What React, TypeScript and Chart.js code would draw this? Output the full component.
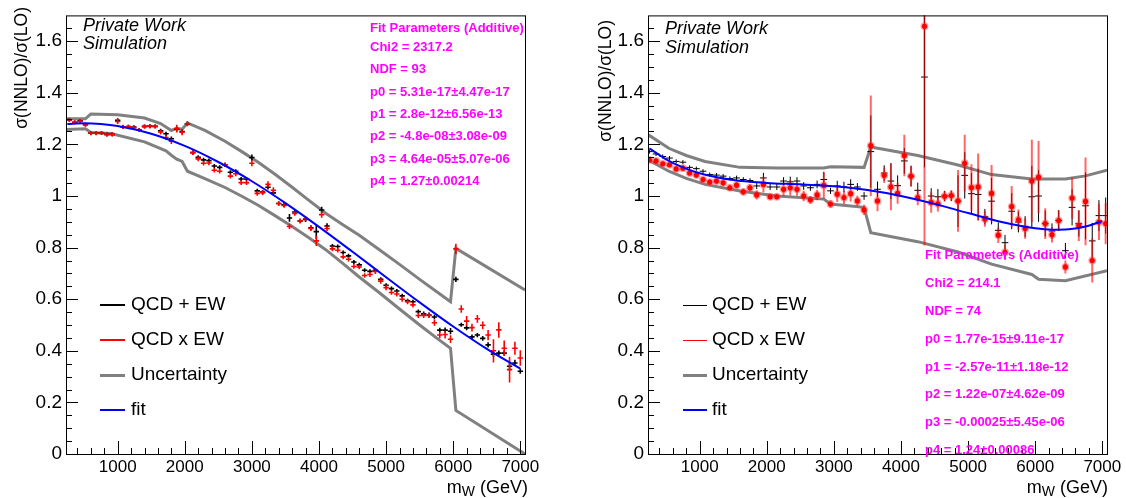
import React, { useEffect, useRef } from "react";
import { Chart, registerables } from "chart.js";

Chart.register(...registerables);

const FONT = "'Liberation Sans', Arial, Helvetica, sans-serif";

// ---------- shared axes ----------
const X_MIN = 230;
const X_MAX = 7070;
const Y_MIN = 0;
const Y_MAX = 1.7;
const X_MAJOR_TICKS = [1000, 2000, 3000, 4000, 5000, 6000, 7000];
const X_MINOR_TICKS = [400, 600, 800, 1200, 1400, 1600, 1800, 2200, 2400, 2600, 2800, 3200, 3400, 3600, 3800, 4200, 4400, 4600, 4800, 5200, 5400, 5600, 5800, 6200, 6400, 6600, 6800];
const Y_MAJOR_TICKS = [0, 0.2, 0.4, 0.6, 0.8, 1, 1.2, 1.4, 1.6];
const Y_MINOR_TICKS = [0.05, 0.1, 0.15, 0.25, 0.3, 0.35, 0.45, 0.5, 0.55, 0.65, 0.7, 0.75, 0.85, 0.9, 0.95, 1.05, 1.1, 1.15, 1.25, 1.3, 1.35, 1.45, 1.5, 1.55, 1.65];

const Y_TITLE = "σ(NNLO)/σ(LO)";
const X_TITLE_MAIN = "m";
const X_TITLE_SUB = "W";
const X_TITLE_UNIT = " (GeV)";
const WATERMARK = ["Private Work", "Simulation"];
const LEGEND_LABELS = ["QCD + EW", "QCD x EW", "Uncertainty", "fit"];

// ---------- left panel ----------
const LEFT_X = [280, 360, 440, 520, 600, 680, 760, 840, 920, 1000, 1080, 1160, 1240, 1320, 1400, 1480, 1560, 1640, 1720, 1800, 1880, 1960, 2040, 2120, 2200, 2280, 2360, 2440, 2520, 2600, 2680, 2760, 2840, 2920, 3000, 3080, 3160, 3240, 3320, 3400, 3480, 3560, 3640, 3720, 3800, 3880, 3960, 4040, 4120, 4200, 4280, 4360, 4440, 4520, 4600, 4680, 4760, 4840, 4920, 5000, 5080, 5160, 5240, 5320, 5400, 5480, 5560, 5640, 5720, 5800, 5880, 5960, 6040, 6120, 6200, 6280, 6360, 6440, 6520, 6600, 6680, 6760, 6840, 6920, 7000];
const LEFT_QCD_PLUS_EW = [1.295, 1.286, 1.291, 1.276, 1.243, 1.243, 1.244, 1.239, 1.239, 1.293, 1.268, 1.269, 1.267, 1.257, 1.270, 1.271, 1.270, 1.253, 1.241, 1.222, 1.259, 1.250, 1.280, 1.168, 1.150, 1.140, 1.137, 1.116, 1.111, 1.121, 1.092, 1.096, 1.066, 1.066, 1.149, 1.020, 1.015, 1.034, 1.012, 0.971, 0.966, 0.915, 0.938, 0.903, 0.909, 0.877, 0.862, 0.946, 0.884, 0.806, 0.804, 0.781, 0.768, 0.744, 0.733, 0.712, 0.708, 0.712, 0.677, 0.654, 0.641, 0.632, 0.613, 0.594, 0.590, 0.552, 0.543, 0.539, 0.531, 0.480, 0.480, 0.476, 0.677, 0.501, 0.489, 0.454, 0.461, 0.448, 0.423, 0.387, 0.391, 0.391, 0.340, 0.353, 0.321];
const LEFT_QCD_PLUS_EW_ERR = [0.007, 0.007, 0.007, 0.007, 0.007, 0.007, 0.007, 0.007, 0.007, 0.008, 0.007, 0.007, 0.007, 0.007, 0.007, 0.007, 0.007, 0.008, 0.008, 0.009, 0.009, 0.009, 0.008, 0.008, 0.008, 0.008, 0.008, 0.008, 0.008, 0.008, 0.008, 0.008, 0.008, 0.008, 0.012, 0.008, 0.008, 0.009, 0.009, 0.008, 0.009, 0.015, 0.009, 0.009, 0.010, 0.010, 0.028, 0.012, 0.010, 0.008, 0.008, 0.008, 0.008, 0.008, 0.008, 0.008, 0.008, 0.008, 0.008, 0.008, 0.008, 0.008, 0.008, 0.008, 0.008, 0.008, 0.009, 0.009, 0.009, 0.009, 0.010, 0.012, 0.010, 0.008, 0.009, 0.009, 0.008, 0.009, 0.010, 0.010, 0.010, 0.010, 0.014, 0.012, 0.010];
const LEFT_QCD_X_EW = [1.295, 1.286, 1.290, 1.276, 1.243, 1.243, 1.244, 1.238, 1.239, 1.289, 1.268, 1.268, 1.265, 1.256, 1.269, 1.270, 1.270, 1.248, 1.227, 1.212, 1.261, 1.247, 1.280, 1.168, 1.144, 1.127, 1.128, 1.100, 1.096, 1.121, 1.077, 1.086, 1.052, 1.052, 1.127, 1.010, 1.013, 1.045, 1.022, 0.971, 0.963, 0.882, 0.932, 0.903, 0.912, 0.874, 0.826, 0.928, 0.874, 0.795, 0.790, 0.764, 0.755, 0.727, 0.725, 0.692, 0.696, 0.708, 0.670, 0.645, 0.626, 0.620, 0.600, 0.590, 0.578, 0.537, 0.537, 0.537, 0.509, 0.461, 0.463, 0.445, 0.795, 0.562, 0.515, 0.490, 0.524, 0.499, 0.461, 0.400, 0.481, 0.410, 0.327, 0.410, 0.372];
const LEFT_QCD_X_EW_ERR = [0.008, 0.008, 0.008, 0.008, 0.008, 0.008, 0.008, 0.008, 0.008, 0.010, 0.008, 0.008, 0.008, 0.008, 0.008, 0.008, 0.008, 0.010, 0.010, 0.010, 0.015, 0.012, 0.010, 0.009, 0.009, 0.009, 0.009, 0.009, 0.009, 0.009, 0.009, 0.009, 0.009, 0.009, 0.012, 0.009, 0.009, 0.012, 0.012, 0.009, 0.009, 0.010, 0.009, 0.009, 0.010, 0.010, 0.020, 0.012, 0.010, 0.009, 0.009, 0.009, 0.009, 0.009, 0.009, 0.009, 0.010, 0.010, 0.010, 0.010, 0.009, 0.010, 0.010, 0.010, 0.010, 0.010, 0.010, 0.010, 0.012, 0.012, 0.015, 0.015, 0.020, 0.015, 0.020, 0.015, 0.015, 0.015, 0.020, 0.045, 0.030, 0.030, 0.050, 0.025, 0.030];
const LEFT_UNC_UP_X = [230, 520, 600, 1000, 1400, 1640, 1800, 1880, 1960, 2040, 2300, 2600, 2850, 3100, 3350, 3600, 3850, 4100, 4350, 4600, 4900, 5200, 5500, 5750, 5960, 6040, 7070];
const LEFT_UNC_UP_Y = [1.299, 1.299, 1.318, 1.315, 1.302, 1.281, 1.254, 1.262, 1.259, 1.283, 1.254, 1.212, 1.172, 1.130, 1.083, 1.034, 0.983, 0.933, 0.890, 0.848, 0.792, 0.735, 0.677, 0.630, 0.590, 0.797, 0.636];
const LEFT_UNC_LO_X = [230, 520, 600, 900, 1400, 1720, 1800, 1880, 1960, 2040, 2300, 2600, 2850, 3100, 3350, 3600, 3850, 4100, 4350, 4600, 4900, 5200, 5500, 5750, 5960, 6040, 7070];
const LEFT_UNC_LO_Y = [1.258, 1.261, 1.246, 1.242, 1.210, 1.175, 1.158, 1.143, 1.134, 1.096, 1.067, 1.033, 0.999, 0.963, 0.923, 0.882, 0.838, 0.792, 0.740, 0.686, 0.625, 0.562, 0.500, 0.450, 0.410, 0.169, 0.000];
const LEFT_FIT_X = [250, 500, 750, 1000, 1500, 2000, 2500, 3000, 3500, 4000, 4500, 5000, 5500, 6000, 6500, 7000];
const LEFT_FIT_Y = [1.2786, 1.2816, 1.279, 1.2713, 1.2413, 1.1941, 1.1318, 1.0571, 0.9724, 0.8804, 0.7837, 0.6852, 0.5876, 0.494, 0.4073, 0.3307];
const LEFT_FIT_TEXT = ["Fit Parameters (Additive)", "Chi2 = 2317.2", "NDF = 93", "p0 = 5.31e-17±4.47e-17", "p1 = 2.8e-12±6.56e-13", "p2 = -4.8e-08±3.08e-09", "p3 = 4.64e-05±5.07e-06", "p4 = 1.27±0.00214"];

// ---------- right panel ----------
const RIGHT_X = [250, 350, 450, 550, 650, 750, 850, 950, 1050, 1150, 1250, 1350, 1450, 1550, 1650, 1750, 1850, 1950, 2050, 2150, 2250, 2350, 2450, 2550, 2650, 2750, 2850, 2950, 3050, 3150, 3250, 3350, 3450, 3550, 3650, 3750, 3850, 3950, 4050, 4150, 4250, 4350, 4450, 4550, 4650, 4750, 4850, 4950, 5050, 5150, 5250, 5350, 5450, 5550, 5650, 5750, 5850, 5950, 6050, 6150, 6250, 6350, 6450, 6550, 6650, 6750, 6850, 6950, 7050];
const RIGHT_QCD_PLUS_EW = [1.172, 1.163, 1.153, 1.147, 1.134, 1.131, 1.111, 1.106, 1.096, 1.083, 1.081, 1.077, 1.068, 1.070, 1.064, 1.060, 1.039, 1.070, 1.035, 1.035, 1.058, 1.055, 1.058, 1.039, 1.032, 1.045, 1.064, 1.020, 1.039, 1.035, 1.045, 1.035, 1.000, 1.172, 1.026, 1.089, 1.058, 1.040, 1.136, 1.077, 1.022, 1.461, 1.000, 0.997, 1.000, 1.000, 0.980, 1.080, 1.009, 1.006, 0.920, 0.980, 0.867, 0.819, 0.941, 0.899, 0.882, 0.997, 1.000, 0.893, 0.864, 0.905, 0.788, 0.956, 0.893, 0.962, 0.826, 0.924, 0.924];
const RIGHT_QCD_PLUS_EW_ERR = [0.008, 0.008, 0.008, 0.008, 0.008, 0.008, 0.008, 0.008, 0.008, 0.008, 0.008, 0.008, 0.008, 0.009, 0.009, 0.009, 0.012, 0.020, 0.012, 0.012, 0.015, 0.020, 0.015, 0.015, 0.012, 0.015, 0.030, 0.012, 0.020, 0.020, 0.020, 0.015, 0.015, 0.140, 0.030, 0.030, 0.070, 0.040, 0.050, 0.040, 0.030, 0.350, 0.030, 0.030, 0.020, 0.020, 0.100, 0.090, 0.080, 0.100, 0.030, 0.090, 0.030, 0.030, 0.070, 0.040, 0.040, 0.120, 0.100, 0.050, 0.030, 0.040, 0.030, 0.070, 0.050, 0.130, 0.070, 0.060, 0.070];
const RIGHT_QCD_X_EW = [1.140, 1.136, 1.125, 1.121, 1.105, 1.108, 1.089, 1.081, 1.064, 1.054, 1.058, 1.051, 1.032, 1.042, 1.016, 1.032, 1.004, 1.045, 0.997, 0.997, 1.026, 1.032, 1.026, 1.000, 0.985, 1.004, 1.041, 0.969, 1.007, 0.994, 1.009, 0.981, 0.946, 1.195, 0.981, 1.080, 1.035, 1.010, 1.157, 1.077, 0.994, 1.658, 0.975, 0.970, 0.999, 1.002, 0.981, 1.127, 1.033, 1.035, 0.911, 1.010, 0.848, 0.782, 0.959, 0.908, 0.874, 1.058, 1.073, 0.893, 0.850, 0.905, 0.725, 0.992, 0.886, 0.979, 0.750, 0.899, 0.893];
const RIGHT_QCD_X_EW_ERR = [0.010, 0.009, 0.009, 0.009, 0.010, 0.010, 0.010, 0.010, 0.011, 0.011, 0.012, 0.012, 0.012, 0.013, 0.013, 0.014, 0.018, 0.030, 0.012, 0.012, 0.025, 0.030, 0.025, 0.020, 0.015, 0.020, 0.050, 0.015, 0.030, 0.025, 0.030, 0.020, 0.020, 0.195, 0.040, 0.030, 0.090, 0.040, 0.080, 0.040, 0.030, 0.850, 0.040, 0.030, 0.020, 0.020, 0.120, 0.110, 0.090, 0.130, 0.030, 0.110, 0.030, 0.030, 0.080, 0.040, 0.040, 0.160, 0.140, 0.060, 0.030, 0.040, 0.025, 0.080, 0.060, 0.170, 0.085, 0.070, 0.080];
const RIGHT_UNC_UP_X = [230, 540, 800, 1080, 1600, 2150, 2850, 2950, 3450, 3550, 4250, 4850, 5350, 5950, 6450, 6750, 7070];
const RIGHT_UNC_UP_Y = [1.238, 1.185, 1.157, 1.134, 1.111, 1.109, 1.109, 1.113, 1.111, 1.190, 1.157, 1.120, 1.083, 1.066, 1.066, 1.078, 1.100];
const RIGHT_UNC_LO_X = [230, 540, 800, 1080, 1600, 2150, 2850, 2950, 3450, 3550, 4250, 4850, 5350, 5950, 6050, 6450, 7070];
const RIGHT_UNC_LO_Y = [1.140, 1.096, 1.068, 1.045, 1.019, 1.000, 0.988, 0.969, 0.956, 0.858, 0.823, 0.783, 0.736, 0.696, 0.677, 0.672, 0.710];
const RIGHT_FIT_X = [250, 500, 750, 1000, 1500, 2000, 2500, 3000, 3500, 4000, 4500, 5000, 5500, 6000, 6250, 6500, 6750, 7000];
const RIGHT_FIT_Y = [1.1847, 1.1424, 1.1108, 1.0881, 1.0617, 1.0507, 1.0451, 1.0375, 1.0232, 1.0003, 0.9694, 0.9338, 0.8993, 0.8747, 0.8695, 0.8712, 0.8816, 0.9027];
const RIGHT_FIT_TEXT = ["Fit Parameters (Additive)", "Chi2 = 214.1", "NDF = 74", "p0 = 1.77e-15±9.11e-17", "p1 = -2.57e-11±1.18e-12", "p2 = 1.22e-07±4.62e-09", "p3 = -0.00025±5.45e-06", "p4 = 1.24±0.00086"];

// ---------- panel specs (styling / placement) ----------
const PANELS = [
  {
    key: "left",
    x: LEFT_X, plus: LEFT_QCD_PLUS_EW, plusErr: LEFT_QCD_PLUS_EW_ERR, times: LEFT_QCD_X_EW, timesErr: LEFT_QCD_X_EW_ERR,
    halfWidth: 40,
    uncUpX: LEFT_UNC_UP_X, uncUpY: LEFT_UNC_UP_Y, uncLoX: LEFT_UNC_LO_X, uncLoY: LEFT_UNC_LO_Y,
    fitX: LEFT_FIT_X, fitY: LEFT_FIT_Y, fitText: LEFT_FIT_TEXT,
    plusStyle: { kind: "cross", color: "#000000", lineWidth: 1.6 },
    timesStyle: { kind: "cross", color: "#ff0000", lineWidth: 1.6 },
    layout: {
      yAxisWidth: 66, xAxisHeight: 44, padRight: 38, padTop: 7,
      yTitleX: 22, yTitleTop: 7, xTitleRight: 528, xTitleBase: 493,
      markX: 83, markY: [25.5, 44],
      legLine: [100, 125], legText: 131, legY: [305, 340, 375, 410], legWidths: [2, 2, 3, 2],
      fitTextX: 370, fitTextY: [28.3, 47.3, 69.3, 92.3, 114.3, 136.7, 159.3, 181.7],
    },
  },
  {
    key: "right",
    x: RIGHT_X, plus: RIGHT_QCD_PLUS_EW, plusErr: RIGHT_QCD_PLUS_EW_ERR, times: RIGHT_QCD_X_EW, timesErr: RIGHT_QCD_X_EW_ERR,
    halfWidth: 50,
    uncUpX: RIGHT_UNC_UP_X, uncUpY: RIGHT_UNC_UP_Y, uncLoX: RIGHT_UNC_LO_X, uncLoY: RIGHT_UNC_LO_Y,
    fitX: RIGHT_FIT_X, fitY: RIGHT_FIT_Y, fitText: RIGHT_FIT_TEXT,
    plusStyle: { kind: "cross", color: "#000000", lineWidth: 1 },
    timesStyle: { kind: "dot", color: "#ff0000", barColor: "rgba(255,0,0,0.6)", halo: "rgba(255,60,60,0.45)", lineWidth: 2, radius: 2.6 },
    layout: {
      yAxisWidth: 85, xAxisHeight: 44, padRight: 19, padTop: 7,
      yTitleX: 43, yTitleTop: 20, xTitleRight: 545, xTitleBase: 493,
      markX: 102, markY: [29, 48],
      legLine: [120, 144], legText: 149, legY: [305, 340, 375, 410], legWidths: [1, 1, 3, 2],
      fitTextX: 362, fitTextY: [255, 283, 311, 339, 367, 394, 422, 450],
    },
  },
];

function drawPoints(chart: any, ds: any) {
  const { ctx, chartArea: ca } = chart;
  const xs = chart.scales.x;
  const ys = chart.scales.y;
  const st = ds.rootStyle;
  ctx.save();
  ctx.beginPath();
  ctx.rect(ca.left, ca.top, ca.right - ca.left, ca.bottom - ca.top);
  ctx.clip();
  ctx.lineCap = "butt";
  ds.data.forEach((pt: any, i: number) => {
    const err = ds.rootErr[i];
    const px = xs.getPixelForValue(pt.x);
    const py = ys.getPixelForValue(pt.y);
    const yTop = ys.getPixelForValue(pt.y + err);
    const yBot = ys.getPixelForValue(pt.y - err);
    if (st.kind === "cross") {
      const xl = xs.getPixelForValue(pt.x - ds.rootHalfWidth);
      const xr = xs.getPixelForValue(pt.x + ds.rootHalfWidth);
      ctx.strokeStyle = st.color;
      ctx.lineWidth = st.lineWidth;
      ctx.beginPath();
      ctx.moveTo(xl, py);
      ctx.lineTo(xr, py);
      ctx.moveTo(px, yTop);
      ctx.lineTo(px, yBot);
      ctx.stroke();
    } else {
      ctx.strokeStyle = st.barColor;
      ctx.lineWidth = st.lineWidth;
      ctx.beginPath();
      ctx.moveTo(px, yTop);
      ctx.lineTo(px, yBot);
      ctx.stroke();
      ctx.fillStyle = st.halo;
      ctx.beginPath();
      ctx.arc(px, py, st.radius + 1.3, 0, Math.PI * 2);
      ctx.fill();
      ctx.fillStyle = st.color;
      ctx.beginPath();
      ctx.arc(px, py, st.radius, 0, Math.PI * 2);
      ctx.fill();
    }
  });
  ctx.restore();
}

function drawDecor(chart: any, p: any) {
  const { ctx, chartArea: ca } = chart;
  const xs = chart.scales.x;
  const ys = chart.scales.y;
  const L = p.layout;
  ctx.save();
  // frame
  ctx.strokeStyle = "#000";
  ctx.lineWidth = 1;
  ctx.strokeRect(ca.left + 0.5, ca.top + 0.5, ca.right - ca.left, ca.bottom - ca.top);
  // ticks
  ctx.beginPath();
  Y_MAJOR_TICKS.forEach((v) => {
    const y = Math.round(ys.getPixelForValue(v)) + 0.5;
    ctx.moveTo(ca.left, y);
    ctx.lineTo(ca.left + 12, y);
  });
  Y_MINOR_TICKS.forEach((v) => {
    const y = Math.round(ys.getPixelForValue(v)) + 0.5;
    ctx.moveTo(ca.left, y);
    ctx.lineTo(ca.left + 6, y);
  });
  X_MAJOR_TICKS.forEach((v) => {
    const x = Math.round(xs.getPixelForValue(v)) + 0.5;
    ctx.moveTo(x, ca.bottom);
    ctx.lineTo(x, ca.bottom - 13);
  });
  X_MINOR_TICKS.forEach((v) => {
    const x = Math.round(xs.getPixelForValue(v)) + 0.5;
    ctx.moveTo(x, ca.bottom);
    ctx.lineTo(x, ca.bottom - 6);
  });
  ctx.stroke();

  // y title
  ctx.fillStyle = "#000";
  ctx.font = `17.5px ${FONT}`;
  ctx.save();
  ctx.translate(L.yTitleX, L.yTitleTop);
  ctx.rotate(-Math.PI / 2);
  ctx.textAlign = "right";
  ctx.textBaseline = "middle";
  ctx.fillText(Y_TITLE, 0, 0);
  ctx.restore();

  // x title with subscript
  ctx.textBaseline = "alphabetic";
  ctx.textAlign = "left";
  ctx.font = `18px ${FONT}`;
  const wM = ctx.measureText(X_TITLE_MAIN).width;
  const wU = ctx.measureText(X_TITLE_UNIT).width;
  ctx.font = `14px ${FONT}`;
  const wS = ctx.measureText(X_TITLE_SUB).width;
  let tx = L.xTitleRight - (wM + wS + wU);
  ctx.font = `18px ${FONT}`;
  ctx.fillText(X_TITLE_MAIN, tx, L.xTitleBase);
  tx += wM;
  ctx.font = `14px ${FONT}`;
  ctx.fillText(X_TITLE_SUB, tx, L.xTitleBase + 3);
  tx += wS;
  ctx.font = `18px ${FONT}`;
  ctx.fillText(X_TITLE_UNIT, tx, L.xTitleBase);

  // watermark
  ctx.font = `italic 18px ${FONT}`;
  ctx.textBaseline = "middle";
  WATERMARK.forEach((t, i) => ctx.fillText(t, L.markX, L.markY[i]));

  // legend
  const legColors = [p.plusStyle.color, p.timesStyle.color, "#808080", "#0000ff"];
  LEGEND_LABELS.forEach((label, i) => {
    const w = L.legWidths[i];
    const y = L.legY[i];
    const ly = w % 2 === 1 ? Math.round(y) + 0.5 : Math.round(y);
    ctx.strokeStyle = legColors[i];
    ctx.lineWidth = w;
    ctx.beginPath();
    ctx.moveTo(L.legLine[0], ly);
    ctx.lineTo(L.legLine[1], ly);
    ctx.stroke();
    ctx.fillStyle = "#000";
    ctx.font = `19px ${FONT}`;
    ctx.fillText(label, L.legText, y);
  });

  // fit parameter text
  ctx.fillStyle = "#ff00ff";
  ctx.font = `bold 13px ${FONT}`;
  p.fitText.forEach((t: string, i: number) => ctx.fillText(t, L.fitTextX, L.fitTextY[i]));
  ctx.restore();
}

function buildChart(canvas: HTMLCanvasElement, p: any) {
  const toPts = (xs: number[], ys: number[]) => xs.map((x, i) => ({ x, y: ys[i] }));
  const plugin = {
    id: "rootDecor",
    afterDatasetDraw(chart: any, args: any) {
      const ds = chart.data.datasets[args.index];
      if (ds.rootStyle) drawPoints(chart, ds);
    },
    afterDraw(chart: any) {
      drawDecor(chart, p);
    },
  };
  const L = p.layout;
  return new Chart(canvas, {
    type: "scatter",
    data: {
      datasets: [
        {
          label: LEGEND_LABELS[3],
          data: toPts(p.fitX, p.fitY),
          showLine: true,
          borderColor: "#0000ff",
          borderWidth: 2,
          pointRadius: 0,
          cubicInterpolationMode: "monotone",
          fill: false,
          order: 0,
        },
        {
          label: LEGEND_LABELS[1],
          data: toPts(p.x, p.times),
          showLine: false,
          pointRadius: 0,
          order: 1,
          rootStyle: p.timesStyle,
          rootErr: p.timesErr,
          rootHalfWidth: p.halfWidth,
        },
        {
          label: LEGEND_LABELS[0],
          data: toPts(p.x, p.plus),
          showLine: false,
          pointRadius: 0,
          order: 2,
          rootStyle: p.plusStyle,
          rootErr: p.plusErr,
          rootHalfWidth: p.halfWidth,
        },
        {
          label: LEGEND_LABELS[2],
          data: toPts(p.uncUpX, p.uncUpY),
          showLine: true,
          borderColor: "#808080",
          borderWidth: 3,
          pointRadius: 0,
          tension: 0,
          fill: false,
          order: 3,
        },
        {
          label: LEGEND_LABELS[2] + " (lower)",
          data: toPts(p.uncLoX, p.uncLoY),
          showLine: true,
          borderColor: "#808080",
          borderWidth: 3,
          pointRadius: 0,
          tension: 0,
          fill: false,
          order: 3,
        },
      ] as any,
    },
    options: {
      animation: false,
      responsive: false,
      devicePixelRatio: 1,
      events: [],
      layout: { padding: { left: 0, right: L.padRight, top: L.padTop, bottom: 0 } },
      plugins: { legend: { display: false }, tooltip: { enabled: false } },
      scales: {
        x: {
          type: "linear",
          min: X_MIN,
          max: X_MAX,
          grid: { display: false, drawTicks: false },
          border: { display: false },
          afterBuildTicks: (s: any) => {
            s.ticks = X_MAJOR_TICKS.map((v) => ({ value: v }));
          },
          afterFit: (s: any) => {
            s.height = L.xAxisHeight;
          },
          ticks: {
            callback: (v: any) => String(v),
            font: { family: FONT, size: 17 },
            color: "#000",
            padding: 3,
            maxRotation: 0,
            autoSkip: false,
          },
        },
        y: {
          type: "linear",
          min: Y_MIN,
          max: Y_MAX,
          grid: { display: false, drawTicks: false },
          border: { display: false },
          afterBuildTicks: (s: any) => {
            s.ticks = Y_MAJOR_TICKS.map((v) => ({ value: v }));
          },
          afterFit: (s: any) => {
            s.width = L.yAxisWidth;
          },
          ticks: {
            callback: (v: any) => String(Math.round(Number(v) * 10) / 10),
            font: { family: FONT, size: 19 },
            color: "#000",
            padding: 4,
            autoSkip: false,
          },
        },
      },
    } as any,
    plugins: [plugin as any],
  });
}

function Panel({ spec }: { spec: any }) {
  const ref = useRef<HTMLCanvasElement | null>(null);
  useEffect(() => {
    if (!ref.current) return;
    const chart = buildChart(ref.current, spec);
    return () => chart.destroy();
  }, [spec]);
  return <canvas ref={ref} width={563} height={498} style={{ display: "block", width: 563, height: 498 }} />;
}

export default function App() {
  return (
    <div style={{ position: "absolute", left: 0, top: 0, width: 1126, height: 498, background: "#fff", display: "flex" }}>
      {PANELS.map((p) => (
        <Panel key={p.key} spec={p} />
      ))}
    </div>
  );
}
